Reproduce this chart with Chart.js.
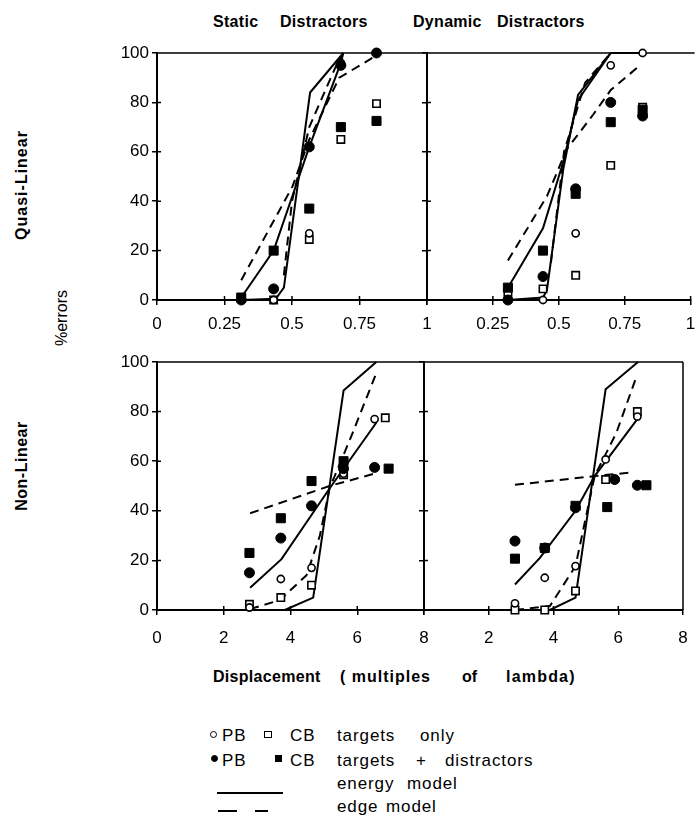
<!DOCTYPE html>
<html><head><meta charset="utf-8">
<script src="https://cdn.jsdelivr.net/npm/chart.js@4/dist/chart.umd.min.js"></script>
<style>
body{margin:0;background:#fff;width:698px;height:816px;position:relative;overflow:hidden;font-family:"Liberation Sans",Arial,sans-serif;color:#000}
canvas{position:absolute}
.t{position:absolute;white-space:pre;line-height:1}
.b{font-weight:bold}
.rot{transform:translate(-50%,-50%) rotate(-90deg)}
.mk{position:absolute;box-sizing:border-box;border:1.5px solid #000;background:#fff}
.lg{font-size:17px;letter-spacing:0.9px}
</style></head><body>
<script>
// ---------- tick values ----------
const topTicks = [0, 0.25, 0.5, 0.75, 1];
const bottomTicks = [0, 2, 4, 6, 8];
const yTicks = [0, 20, 40, 60, 80, 100];

// ---------- Static distractors, Quasi-Linear ----------
const sqX      = [0.312, 0.432, 0.564, 0.681, 0.813];
const sqPBonly = [0, 0, 27, 96, 100];
const sqCBonly = [1, 0, 24.5, 65, 79.5];
const sqPBdist = [0, 4.5, 62, 95, 100];
const sqCBdist = [1, 20, 37, 70, 72.5];
const sqEnergyAX = [0.312, 0.44, 0.47, 0.567, 0.69];
const sqEnergyAY = [0, 0.5, 5, 84, 100];
const sqEnergyBX = [0.312, 0.432, 0.564, 0.681, 0.69];
const sqEnergyBY = [1, 20, 62, 96, 100];
const sqEdgeAX = [0.312, 0.502, 0.564, 0.675, 0.813];
const sqEdgeAY = [8, 46, 65, 90, 99];
const sqEdgeBX = [0.47, 0.5, 0.564, 0.66, 0.69];
const sqEdgeBY = [10, 40, 70, 94, 100];

// ---------- Dynamic distractors, Quasi-Linear ----------
const dqX      = [0.307, 0.44, 0.564, 0.697, 0.818];
const dqPBonly = [0, 0, 27, 95, 100];
const dqCBonly = [3, 4.5, 10, 54.5, 78];
const dqPBdist = [0, 9.5, 45, 80, 74.5];
const dqCBdist = [5, 20, 43, 72, 77];
const dqEnergyAX = [0.307, 0.44, 0.455, 0.517, 0.573, 0.697, 0.818];
const dqEnergyAY = [0, 1, 4, 53, 83, 100, 100];
const dqEnergyBX = [0.307, 0.44, 0.517, 0.573, 0.697];
const dqEnergyBY = [5, 29, 56, 81, 100];
const dqEdgeAX = [0.307, 0.455, 0.53, 0.63, 0.697, 0.808];
const dqEdgeAY = [16, 42, 61, 75, 85, 95];
const dqEdgeBX = [0.47, 0.52, 0.6, 0.697];
const dqEdgeBY = [15, 60, 88, 100];

// ---------- Static distractors, Non-Linear ----------
const snPBonlyX = [2.77, 3.71, 4.63, 5.59, 6.52];
const snPBonly  = [1, 12.5, 17, 55, 77];
const snCBonlyX = [2.77, 3.71, 4.63, 5.59, 6.84];
const snCBonly  = [2.3, 5, 10, 54.5, 77.5];
const snPBdistX = [2.77, 3.71, 4.63, 5.59, 6.52];
const snPBdist  = [15, 29, 42, 57, 57.5];
const snCBdistX = [2.77, 3.71, 4.63, 5.59, 6.94];
const snCBdist  = [23, 37, 52, 60, 57];
const snEnergyAX = [2.84, 3.83, 4.68, 5.59, 6.57];
const snEnergyAY = [0, 0, 5, 88.5, 100];
const snEnergyBX = [2.79, 3.73, 5.17, 6.57];
const snEnergyBY = [9, 20.5, 49, 75.5];
const snEdgeAX = [2.79, 5.17, 6.52];
const snEdgeAY = [39, 50, 55];
const snEdgeBX = [2.79, 3.68, 4.48, 4.88, 5.17, 5.82, 6.6];
const snEdgeBY = [0.4, 4, 14, 30, 49, 70, 96.5];

// ---------- Dynamic distractors, Non-Linear ----------
const dnPBonlyX = [2.81, 3.73, 4.68, 5.61, 6.59];
const dnPBonly  = [2.7, 13, 17.7, 60.7, 78];
const dnCBonlyX = [2.81, 3.73, 4.68, 5.61, 6.59];
const dnCBonly  = [0, 0, 7.7, 52.6, 80];
const dnPBdistX = [2.81, 3.73, 4.68, 5.89, 6.59];
const dnPBdist  = [27.8, 25, 41.2, 52.6, 50.3];
const dnCBdistX = [2.81, 3.73, 4.68, 5.66, 6.87];
const dnCBdist  = [20.7, 25, 42, 41.5, 50.3];
const dnEnergyAX = [2.81, 3.89, 4.68, 5.61, 6.61];
const dnEnergyAY = [0, 0, 5, 89, 100];
const dnEnergyBX = [2.81, 3.58, 4.68, 5.27, 6.59];
const dnEnergyBY = [10.3, 21, 40, 54, 77];
const dnEdgeAX = [2.81, 5.27, 6.44];
const dnEdgeAY = [50.5, 54, 55.5];
const dnEdgeBX = [2.81, 3.89, 4.68, 5.27, 5.94, 6.56];
const dnEdgeBY = [0, 1.6, 17.7, 54, 71.4, 94];

// ---------- helpers ----------
const pts = (xs, ys) => xs.map((x, i) => ({x, y: ys[i]}));
function markers(xsA, pbOnly, xsB, cbOnly, xsC, pbDist, xsD, cbDist) {
  return [
    {data: pts(xsC, pbDist), showLine:false, pointStyle:'circle', pointRadius:5, pointBackgroundColor:'#000', pointBorderColor:'#000', pointBorderWidth:1, clip:false},
    {data: pts(xsD, cbDist), showLine:false, pointStyle:'rect', pointRadius:6.4, pointBackgroundColor:'#000', pointBorderColor:'#000', pointBorderWidth:1, clip:false},
    {data: pts(xsA, pbOnly), showLine:false, pointStyle:'circle', pointRadius:3.6, pointBackgroundColor:'#fff', pointBorderColor:'#000', pointBorderWidth:1.6, clip:false},
    {data: pts(xsB, cbOnly), showLine:false, pointStyle:'rect', pointRadius:5.2, pointBackgroundColor:'#fff', pointBorderColor:'#000', pointBorderWidth:1.6, clip:false}
  ];
}
function line(xs, ys, dashed) {
  return {data: pts(xs, ys), showLine:true, borderColor:'#000', borderWidth:2, pointRadius:0, tension:0, fill:false, borderDash: dashed ? [9, 6] : [], clip:false};
}

const frame = {
  id: 'frame',
  beforeDatasetsDraw(chart, args, opts) {
    const {ctx, chartArea: a, scales: {x, y}} = chart;
    ctx.save();
    ctx.strokeStyle = '#000';
    ctx.lineWidth = 1.5;
    ctx.beginPath();
    ctx.moveTo(a.left, a.top); ctx.lineTo(a.right + (opts.extend || 0), a.top);
    if (opts.right) { ctx.moveTo(a.right, a.top); ctx.lineTo(a.right, a.bottom); }
    x.ticks.forEach(t => { const p = x.getPixelForValue(t.value); ctx.moveTo(p, a.bottom); ctx.lineTo(p, a.bottom - 4); });
    y.ticks.forEach(t => { const p = y.getPixelForValue(t.value); ctx.moveTo(a.left, p); ctx.lineTo(a.left + 4, p); });
    ctx.stroke();
    ctx.restore();
  }
};

function panel(box, area, xMax, xStep, xLabel, yLabels, datasets, right, extend) {
  const c = document.createElement('canvas');
  c.width = box.w; c.height = box.h;
  c.style.left = box.x + 'px'; c.style.top = box.y + 'px';
  document.body.appendChild(c);
  const pl = area.l - box.x, pt = area.t - box.y, pr = box.x + box.w - area.r, pb = box.y + box.h - area.b;
  const font = {family: '"Liberation Sans", Arial, sans-serif', size: 17};
  new Chart(c, {
    type: 'scatter',
    data: {datasets},
    plugins: [frame],
    options: {
      responsive: false, animation: false, events: [],
      layout: {padding: {left: 0, top: pt, right: pr, bottom: 0}},
      plugins: {legend: {display: false}, tooltip: {enabled: false}, frame: {right, extend}},
      scales: {
        x: {type: 'linear', min: 0, max: xMax,
            ticks: {stepSize: xStep, autoSkip: false, maxRotation: 0, color: '#000', font, padding: xLabel.pad,
                    callback: v => xLabel.fn(v)},
            grid: {display: true, drawOnChartArea: false, drawTicks: true, tickLength: 5, color: '#000', lineWidth: 1.5},
            border: {display: true, color: '#000', width: 2},
            afterFit(s) { s.height = pb; s.paddingLeft = 0; s.paddingRight = 0; }},
        y: {type: 'linear', min: 0, max: 100,
            ticks: {stepSize: 20, color: '#000', font, padding: 3, callback: v => yLabels ? String(v) : ''},
            grid: {display: true, drawOnChartArea: false, drawTicks: true, tickLength: 5, color: '#000', lineWidth: 1.5},
            border: {display: true, color: '#000', width: 2},
            afterFit(s) { s.width = pl; s.paddingTop = 0; s.paddingBottom = 0; }}
      }
    }
  });
}

const leftLab = {pad: 9, fn: v => String(v)};
const rightLab = {pad: 9, fn: v => v === 0 ? '' : String(v)};
const leftLabB = {pad: 13, fn: v => String(v)};
const rightLabB = {pad: 13, fn: v => v === 0 ? '' : String(v)};

panel({x:100, y:40, w:335, h:305}, {l:157, t:53, r:427, b:300}, 1, 0.25, leftLab, true,
  [...markers(sqX, sqPBonly, sqX, sqCBonly, sqX, sqPBdist, sqX, sqCBdist),
   line(sqEnergyAX, sqEnergyAY, false), line(sqEnergyBX, sqEnergyBY, false),
   line(sqEdgeAX, sqEdgeAY, true), line(sqEdgeBX, sqEdgeBY, true)], false, 0);

panel({x:418, y:40, w:280, h:305}, {l:427, t:53, r:695, b:300}, 1, 0.25, rightLab, false,
  [...markers(dqX, dqPBonly, dqX, dqCBonly, dqX, dqPBdist, dqX, dqCBdist),
   line(dqEnergyAX, dqEnergyAY, false), line(dqEnergyBX, dqEnergyBY, false),
   line(dqEdgeAX, dqEdgeAY, true), line(dqEdgeBX, dqEdgeBY, true)], false, 4);

panel({x:100, y:349, w:335, h:311}, {l:157, t:362, r:424, b:610}, 8, 2, leftLabB, true,
  [...markers(snPBonlyX, snPBonly, snCBonlyX, snCBonly, snPBdistX, snPBdist, snCBdistX, snCBdist),
   line(snEnergyAX, snEnergyAY, false), line(snEnergyBX, snEnergyBY, false),
   line(snEdgeAX, snEdgeAY, true), line(snEdgeBX, snEdgeBY, true)], false, 0);

panel({x:415, y:349, w:283, h:311}, {l:424, t:362, r:683, b:610}, 8, 2, rightLabB, false,
  [...markers(dnPBonlyX, dnPBonly, dnCBonlyX, dnCBonly, dnPBdistX, dnPBdist, dnCBdistX, dnCBdist),
   line(dnEnergyAX, dnEnergyAY, false), line(dnEnergyBX, dnEnergyBY, false),
   line(dnEdgeAX, dnEdgeAY, true), line(dnEdgeBX, dnEdgeBY, true)], true, 0);
</script>

<!-- titles -->
<div class="t b" style="left:213px;top:14px;font-size:16px;letter-spacing:0.3px">Static</div>
<div class="t b" style="left:280px;top:14px;font-size:16px;letter-spacing:0.3px">Distractors</div>
<div class="t b" style="left:413px;top:14px;font-size:16px;letter-spacing:0.3px">Dynamic</div>
<div class="t b" style="left:497px;top:14px;font-size:16px;letter-spacing:0.3px">Distractors</div>

<div class="t b rot" style="left:22px;top:185px;font-size:16px;letter-spacing:1px">Quasi-Linear</div>
<div class="t b rot" style="left:22px;top:466px;font-size:16px;letter-spacing:0.5px">Non-Linear</div>
<div class="t rot" style="left:62px;top:318px;font-size:16px">%errors</div>

<div class="t b" style="left:213px;top:669px;font-size:16px;letter-spacing:0.3px">Displacement</div>
<div class="t b" style="left:340px;top:669px;font-size:16px;letter-spacing:1px">( multiples</div>
<div class="t b" style="left:462px;top:669px;font-size:16px">of</div>
<div class="t b" style="left:506px;top:669px;font-size:16px;letter-spacing:1.2px">lambda)</div>

<!-- legend -->
<div class="mk" style="left:210px;top:731px;width:7px;height:7px;border-radius:50%"></div>
<div class="t lg" style="left:222px;top:727px">PB</div>
<div class="mk" style="left:264px;top:731px;width:8px;height:7px"></div>
<div class="t lg" style="left:290px;top:727px">CB</div>
<div class="t lg" style="left:337px;top:727px">targets</div>
<div class="t lg" style="left:420px;top:727px">only</div>

<div class="mk" style="left:211px;top:755px;width:7px;height:7px;border-radius:50%;background:#000"></div>
<div class="t lg" style="left:222px;top:752px">PB</div>
<div class="mk" style="left:275px;top:755px;width:7px;height:7px;background:#000"></div>
<div class="t lg" style="left:290px;top:752px">CB</div>
<div class="t lg" style="left:337px;top:752px">targets</div>
<div class="t lg" style="left:416px;top:752px">+</div>
<div class="t lg" style="left:445px;top:752px">distractors</div>

<div class="t lg" style="left:337px;top:775px">energy</div>
<div class="t lg" style="left:407px;top:775px">model</div>
<div style="position:absolute;left:217px;top:792px;width:66px;height:2px;background:#000"></div>

<div class="t lg" style="left:337px;top:798px">edge</div>
<div class="t lg" style="left:386px;top:798px">model</div>
<div style="position:absolute;left:218px;top:810px;width:19px;height:2px;background:#000"></div>
<div style="position:absolute;left:255px;top:810px;width:13px;height:2px;background:#000"></div>
</body></html>
